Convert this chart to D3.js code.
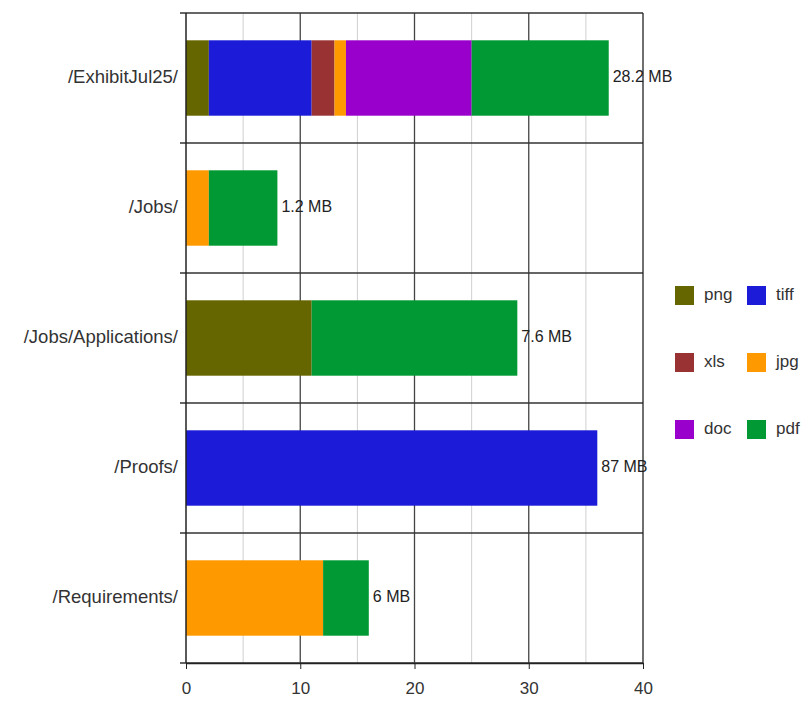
<!DOCTYPE html>
<html>
<head>
<meta charset="utf-8">
<script src="https://cdn.jsdelivr.net/npm/d3@7"></script>
<style>
  body { margin: 0; background: #fff; }
  svg { display: block; font-family: "Liberation Sans", Arial, sans-serif; }
</style>
</head>
<body>
<svg id="chart" width="809" height="701"></svg>
<script>
const categories = ["/ExhibitJul25/", "/Jobs/", "/Jobs/Applications/", "/Proofs/", "/Requirements/"]
const fileTypes = ["png", "tiff", "xls", "jpg", "doc", "pdf"]
const png = [2, 0, 11, 0, 0]
const tiff = [9, 0, 0, 36, 0]
const xls = [2, 0, 0, 0, 0]
const jpg = [1, 2, 0, 0, 12]
const doc = [11, 0, 0, 0, 0]
const pdf = [12, 6, 18, 0, 4]
const totalLabels = ["28.2 MB", "1.2 MB", "7.6 MB", "87 MB", "6 MB"]
const xTicks = [0, 10, 20, 30, 40]
const colors = ["#666600", "#1c1cd8", "#993333", "#ff9900", "#9900cc", "#009933"]

const series = { png, tiff, xls, jpg, doc, pdf }
const rows = categories.map((name, i) => {
  const row = { name }
  fileTypes.forEach((t) => { row[t] = series[t][i] })
  return row
})

const svg = d3.select("#chart")
const margin = { top: 13, left: 186, right: 643, bottom: 663 }

const x = d3.scaleLinear().domain([0, 40]).range([margin.left, margin.right])
const y = d3.scaleBand()
  .domain(categories)
  .range([margin.top, margin.bottom])
  .paddingInner(0.42)
  .paddingOuter(0.21)
const color = d3.scaleOrdinal().domain(fileTypes).range(colors)

// vertical grid
const grid = svg.append("g")
d3.range(5, 40, 5).forEach((v) => {
  grid.append("line")
    .attr("x1", x(v)).attr("x2", x(v))
    .attr("y1", margin.top).attr("y2", margin.bottom)
    .attr("stroke", v % 10 === 0 ? "#444" : "#d0d0d0")
    .attr("stroke-width", v % 10 === 0 ? 1.3 : 1)
})

// band separators
const step = y.step()
d3.range(0, categories.length + 1).forEach((i) => {
  const yy = margin.top + i * step
  grid.append("line")
    .attr("x1", margin.left - 6).attr("x2", margin.right)
    .attr("y1", yy).attr("y2", yy)
    .attr("stroke", "#333")
    .attr("stroke-width", 1.3)
})

// stacked bars
const stacked = d3.stack().keys(fileTypes)(rows)
svg.append("g")
  .selectAll("g")
  .data(stacked)
  .join("g")
  .attr("fill", (s) => color(s.key))
  .selectAll("rect")
  .data((s) => s.filter((d) => d[1] - d[0] > 0))
  .join("rect")
  .attr("x", (d) => x(d[0]))
  .attr("y", (d) => y(d.data.name))
  .attr("width", (d) => x(d[1]) - x(d[0]))
  .attr("height", y.bandwidth())

// total labels
svg.append("g")
  .selectAll("text")
  .data(rows)
  .join("text")
  .attr("x", (d) => x(d3.sum(fileTypes, (t) => d[t])) + 4)
  .attr("y", (d) => y(d.name) + y.bandwidth() / 2)
  .attr("dominant-baseline", "middle")
  .attr("font-size", 16)
  .attr("fill", "#222")
  .text((d, i) => totalLabels[i])

// frame
svg.append("line")
  .attr("x1", margin.left).attr("x2", margin.left)
  .attr("y1", margin.top).attr("y2", margin.bottom)
  .attr("stroke", "#222").attr("stroke-width", 1.5)
svg.append("line")
  .attr("x1", margin.right).attr("x2", margin.right)
  .attr("y1", margin.top).attr("y2", margin.bottom)
  .attr("stroke", "#222").attr("stroke-width", 1.3)

// x axis
const xAxis = svg.append("g")
  .attr("transform", `translate(0,${margin.bottom})`)
  .call(d3.axisBottom(x).tickValues(xTicks).tickSize(6).tickSizeOuter(0).tickPadding(13))
xAxis.select(".domain").attr("stroke", "#222").attr("stroke-width", 1.3)
xAxis.selectAll("line").attr("stroke", "#222")
xAxis.selectAll("text").attr("font-size", 17).attr("fill", "#333")
  .attr("font-family", "Liberation Sans, Arial, sans-serif")

// y labels
svg.append("g")
  .selectAll("text")
  .data(categories)
  .join("text")
  .attr("x", margin.left - 8)
  .attr("y", (d) => y(d) + y.bandwidth() / 2)
  .attr("text-anchor", "end")
  .attr("dominant-baseline", "middle")
  .attr("font-size", 18.5)
  .attr("fill", "#333")
  .text((d) => d)

// legend
const legend = svg.append("g")
fileTypes.forEach((t, i) => {
  const col = i % 2
  const row = Math.floor(i / 2)
  const gx = 675 + col * 72
  const gy = 295 + row * 67
  legend.append("rect")
    .attr("x", gx).attr("y", gy - 9)
    .attr("width", 19).attr("height", 19)
    .attr("fill", color(t))
  legend.append("text")
    .attr("x", gx + 29).attr("y", gy + 1)
    .attr("dominant-baseline", "middle")
    .attr("font-size", 17)
    .attr("fill", "#333")
    .text(t)
})
</script>
</body>
</html>
